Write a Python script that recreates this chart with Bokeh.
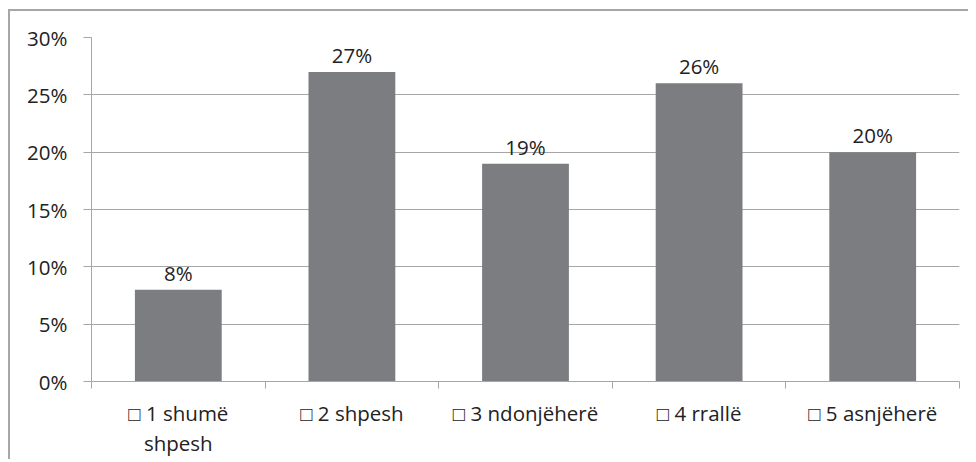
from bokeh.plotting import figure
from bokeh.models import FixedTicker, PrintfTickFormatter, ColumnDataSource, Range1d
from bokeh.core.properties import value
from bokeh.embed import file_html
from bokeh.resources import INLINE

categories = ["□ 1 shumë\nshpesh", "□ 2 shpesh", "□ 3 ndonjëherë", "□ 4 rrallë", "□ 5 asnjëherë"]
values = [8, 27, 19, 26, 20]
labels = ["8%", "27%", "19%", "26%", "20%"]
y_ticks = [0, 5, 10, 15, 20, 25, 30]

xs = list(range(1, len(categories) + 1))
src = ColumnDataSource(dict(x=xs, top=values, label=labels))

FONT = "Open Sans"
FS = "20.5px"
TXT = "#222222"
GRID = "#a6a6a6"

p = figure(width=960, height=450, output_backend="svg", toolbar_location=None,
           x_range=Range1d(0.5, len(categories) + 0.5), y_range=Range1d(0, 30),
           min_border_left=81, min_border_right=11, min_border_top=26, min_border_bottom=80)
p.styles = {"border-left": "2px solid #a6a6a6", "border-top": "2px solid #a6a6a6",
            "margin-left": "8px", "margin-top": "9px"}
p.outline_line_color = None
p.background_fill_color = "white"
p.border_fill_color = "white"

p.vbar(x="x", top="top", width=0.5, bottom=0, source=src, fill_color="#7c7d81", line_color=None)
p.text(x="x", y="top", text="label", source=src, text_align="center", text_baseline="alphabetic",
       y_offset=-17, text_font=value(FONT), text_font_size=FS, text_color=TXT)

p.yaxis.ticker = FixedTicker(ticks=y_ticks)
p.yaxis.formatter = PrintfTickFormatter(format="%d%%")
p.yaxis.major_label_text_font = FONT
p.yaxis.major_label_text_font_size = FS
p.yaxis.major_label_text_color = TXT
p.yaxis.axis_line_color = GRID
p.yaxis.major_tick_line_color = GRID
p.yaxis.major_tick_out = 8
p.yaxis.major_tick_in = 0
p.yaxis.minor_tick_line_color = None
p.yaxis.major_label_standoff = 16

p.xaxis.ticker = FixedTicker(ticks=xs, minor_ticks=[x - 0.5 for x in xs] + [xs[-1] + 0.5])
p.xaxis.major_label_overrides = {x: c for x, c in zip(xs, categories)}
p.xaxis.major_label_text_font = FONT
p.xaxis.major_label_text_font_size = FS
p.xaxis.major_label_text_color = TXT
p.xaxis.major_label_text_line_height = 1.1
p.xaxis.axis_line_color = GRID
p.xaxis.major_tick_line_color = None
p.xaxis.major_tick_out = 0
p.xaxis.major_tick_in = 0
p.xaxis.minor_tick_line_color = GRID
p.xaxis.minor_tick_out = 7
p.xaxis.minor_tick_in = 0
p.xaxis.major_label_standoff = 10

p.xgrid.grid_line_color = None
p.ygrid.grid_line_color = GRID
p.ygrid.grid_line_width = 1

open("out.html", "w").write(file_html(p, INLINE))
